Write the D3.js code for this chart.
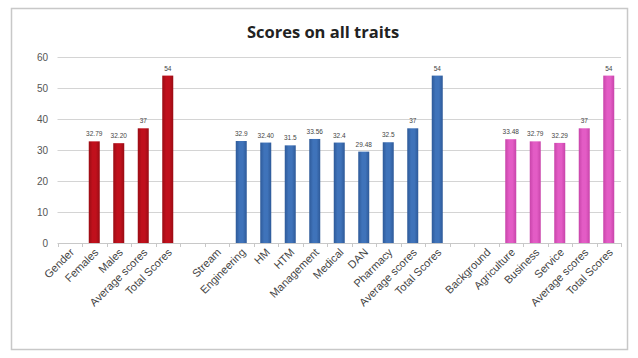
<!DOCTYPE html>
<html><head><meta charset="utf-8">
<script src="https://cdn.jsdelivr.net/npm/d3@7"></script>
<style>body{margin:0;background:#fff}svg{display:block}</style>
</head><body>
<script>
const categories = ["Gender","Females","Males","Average scores","Total Scores","",
  "Stream","Engineering","HM","HTM","Management","Medical","DAN","Pharmacy","Average scores","Total Scores","",
  "Background","Agriculture","Business","Service","Average scores","Total Scores"];
const values = [null,32.79,32.2,37,54,null,
  null,32.9,32.4,31.5,33.56,32.4,29.48,32.5,37,54,null,
  null,33.48,32.79,32.29,37,54];
const valueLabels = ["","32.79","32.20","37","54","",
  "","32.9","32.40","31.5","33.56","32.4","29.48","32.5","37","54","",
  "","33.48","32.79","32.29","37","54"];
const groups = [0,0,0,0,0,-1, 1,1,1,1,1,1,1,1,1,1,-1, 2,2,2,2,2,2];
const groupColors = ["#C0101C","#3F73BA","#E35CC5"];
const groupDark = ["#9A0C14","#2E5A99","#C844AA"];
const yTicks = [0,10,20,30,40,50,60];
const title = "Scores on all traits";

const W=638,H=358;
const svg=d3.select("body").append("svg").attr("width",W).attr("height",H);
svg.append("rect").attr("x",11.5).attr("y",8.5).attr("width",616).attr("height",341)
  .attr("fill","#fff").attr("stroke","#c8c8c8").attr("stroke-width",1.5);

const x=d3.scaleBand().domain(d3.range(categories.length)).range([57.5,621]).paddingInner(0).paddingOuter(0);
const y=d3.scaleLinear().domain([0,60]).range([243,57]);

svg.append("g").selectAll("line").data(yTicks.filter(d=>d>0)).join("line")
  .attr("x1",57.5).attr("x2",621).attr("y1",d=>Math.round(y(d))+0.5).attr("y2",d=>Math.round(y(d))+0.5)
  .attr("stroke","#d4d4d4").attr("stroke-width",1);

svg.append("g").selectAll("text").data(yTicks).join("text")
  .attr("x",48).attr("y",d=>y(d)+3.5).attr("text-anchor","end")
  .attr("font-family","Liberation Sans, Arial, sans-serif").attr("font-size",10).attr("fill","#555")
  .text(d=>d);

const defs=svg.append("defs");
groupColors.forEach((c,i)=>{
  const g=defs.append("linearGradient").attr("id","g"+i).attr("x1",0).attr("x2",1).attr("y1",0).attr("y2",0);
  g.append("stop").attr("offset","0%").attr("stop-color",groupDark[i]);
  g.append("stop").attr("offset","35%").attr("stop-color",c);
  g.append("stop").attr("offset","65%").attr("stop-color",c);
  g.append("stop").attr("offset","100%").attr("stop-color",groupDark[i]);
});

const bw=11;
const data=categories.map((c,i)=>({c,i,v:values[i],l:valueLabels[i],g:groups[i]}));
svg.append("g").selectAll("rect").data(data.filter(d=>d.v!=null)).join("rect")
  .attr("x",d=>x(d.i)+x.bandwidth()/2-bw/2).attr("width",bw)
  .attr("y",d=>y(d.v)).attr("height",d=>y(0)-y(d.v))
  .attr("fill",d=>`url(#g${d.g})`);

svg.append("g").selectAll("text").data(data.filter(d=>d.v!=null)).join("text")
  .attr("x",d=>x(d.i)+x.bandwidth()/2).attr("y",d=>y(d.v)-5).attr("text-anchor","middle")
  .attr("font-family","Liberation Sans, Arial, sans-serif").attr("font-size",6.5).attr("fill","#444")
  .text(d=>d.l);

svg.append("line").attr("x1",57.5).attr("x2",621).attr("y1",243.5).attr("y2",243.5).attr("stroke","#c8c8c8");
svg.append("g").selectAll("line").data(d3.range(categories.length+1)).join("line")
  .attr("x1",d=>Math.round(57.5+d*x.bandwidth())+0.5).attr("x2",d=>Math.round(57.5+d*x.bandwidth())+0.5)
  .attr("y1",243).attr("y2",247).attr("stroke","#c8c8c8");

svg.append("g").selectAll("text").data(data).join("text")
  .attr("transform",d=>`translate(${x(d.i)+x.bandwidth()/2+5},${253}) rotate(-45)`)
  .attr("text-anchor","end")
  .attr("font-family","Liberation Sans, Arial, sans-serif").attr("font-size",11).attr("fill","#444")
  .text(d=>d.c);

svg.append("text").attr("x",323).attr("y",38).attr("text-anchor","middle")
  .attr("font-family","Open Sans, Liberation Sans, sans-serif").attr("font-weight","bold").attr("font-size",16.5).attr("fill","#222")
  .text(title);
</script>
</body></html>
